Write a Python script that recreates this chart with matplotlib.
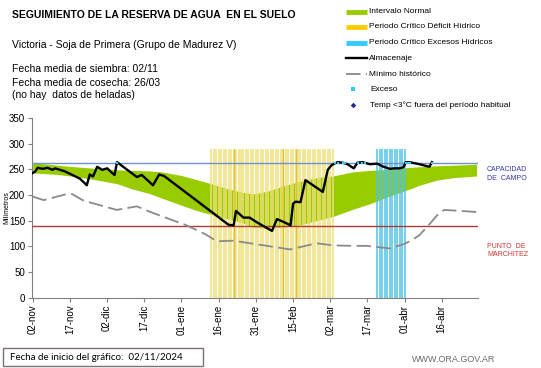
import numpy as np
import matplotlib
matplotlib.use("Agg")
import matplotlib.pyplot as plt
from matplotlib.lines import Line2D
from matplotlib.patches import Rectangle

plt.rcParams['font.family'] = ['Liberation Sans', 'DejaVu Sans']

# dias desde el 02/11/2024
tick_dias = [0, 15, 30, 45, 60, 75, 90, 105, 120, 135, 150, 165]
tick_labels = ['02-nov', '17-nov', '02-dic', '17-dic', '01-ene', '16-ene',
               '31-ene', '15-feb', '02-mar', '17-mar', '01-abr', '16-abr']

capacidad_campo = 263
punto_marchitez = 139

# intervalo normal (banda verde)
banda_dias = [0, 10, 17, 25, 34, 40, 47, 52, 60, 66, 72, 78, 84, 89, 95, 100,
              107, 113, 116, 121, 129, 136, 143, 150, 156, 163, 170, 179]
banda_sup = [263, 258, 255, 252, 249, 248, 247, 245, 238, 230, 222, 213, 206, 202,
             208, 216, 226, 232, 235, 237, 245, 248, 250, 253, 255, 257, 258, 260]
banda_inf = [243, 240, 236, 230, 222, 212, 203, 194, 180, 170, 162, 154, 147, 137,
             135, 137, 141, 148, 152, 158, 172, 183, 196, 208, 219, 229, 234, 237]

# almacenaje
alm_dias = [0, 1, 2, 4, 6, 8, 9, 11, 13, 16, 19, 21.8, 23, 24.3, 26, 28, 30, 32, 33,
            34, 42, 44, 48.5, 51, 53, 79, 81, 82, 85, 87.5, 90, 96.5, 98.5, 101, 104,
            105, 106, 108, 110, 117, 119, 120.5, 122, 123, 125, 127, 128.5, 129.5, 131,
            133, 136, 139, 141, 144, 146, 148, 149.5, 150.5, 152, 156, 160, 161]
alm_vals = [243, 246, 253, 251, 253, 249, 252, 249, 246, 239, 232, 219, 240, 236, 255,
            249, 252, 243, 239, 264, 235, 239, 219, 240, 237, 142, 141, 169, 156, 156,
            148, 130, 153, 148, 141, 183, 187, 186, 229, 206, 249, 258, 262, 264, 263,
            260, 255, 252, 263, 264, 260, 261, 256, 251, 252, 252, 254, 264, 264, 260,
            255, 264]

# exceso
exceso_dias = [34, 122, 123, 125, 126, 131, 133, 134, 150.5, 151.5, 152, 161]

# minimo historico
min_dias = [0, 4.4, 13.8, 15.8, 20.5, 33.9, 42, 47.4, 62, 69.5, 74.2, 81, 90.4,
            103.8, 114.5, 121, 128, 134.7, 144, 149.5, 153, 156, 160, 163, 166, 179]
min_vals = [197, 190, 202, 202, 189, 171, 178, 167, 141, 124, 110, 111, 104, 94,
            106, 102, 101, 101, 96, 104, 112, 122, 143, 160, 171, 167]

# periodos criticos
deficit_inicio, deficit_fin = 72, 121
deficit_oscuros = [81, 101, 106]
excesos_inicio, excesos_fin = 139, 150
altura_periodo = 290

fig = plt.figure(figsize=(5.41, 3.68), dpi=100)
W, H = 541, 368
ax = fig.add_axes([32 / W, 1 - 297.7 / H, (478 - 32) / W, (297.7 - 118) / H])

ax.fill_between(banda_dias, banda_inf, banda_sup, color='#99cc00', lw=0, zorder=1)

deficit_dias = np.arange(deficit_inicio, deficit_fin + 1)
ax.vlines(deficit_dias, 0, altura_periodo, color='#efe07a', lw=1.1, zorder=2)
ax.vlines(deficit_oscuros, 0, altura_periodo, color='#e2c22a', lw=1.0, zorder=2)
excesos_dias = np.arange(excesos_inicio, excesos_fin + 1)
ax.vlines(excesos_dias, 0, altura_periodo, color='#4fc3e6', lw=1.1, zorder=2)

ax.axhline(capacidad_campo, color='#7090d0', lw=1.0, zorder=3)
ax.axhline(punto_marchitez, color='#b03a3a', lw=1.0, zorder=3)

ax.plot(min_dias, min_vals, color='#8a8a8a', lw=1.3, ls=(0, (8, 3)), zorder=4)
ax.plot(alm_dias, alm_vals, color='black', lw=1.7, zorder=5)
ax.plot(exceso_dias, [capacidad_campo] * len(exceso_dias), 's', color='#33ccee',
        ms=1.9, mew=0, zorder=6)

ax.set_xlim(-0.3, 179.6)
ax.set_ylim(0, 350)
ax.set_xticks(tick_dias)
ax.set_xticklabels(tick_labels, rotation=90, fontsize=7)
ax.set_yticks(range(0, 351, 50))
ax.tick_params(axis='both', colors='#808080', length=3, width=0.8, labelcolor='black',
               labelsize=7, pad=2)
for s in ['top', 'right']:
    ax.spines[s].set_visible(False)
for s in ['left', 'bottom']:
    ax.spines[s].set_color('#808080')
    ax.spines[s].set_linewidth(0.8)

fig.text(7 / W, 1 - 208 / H, 'Milímetros', rotation=90, fontsize=5,
         ha='center', va='center')

# textos de encabezado
fig.text(12 / W, 1 - 15 / H, 'SEGUIMIENTO DE LA RESERVA DE AGUA  EN EL SUELO',
         fontsize=7.5, fontweight='bold', va='center')
fig.text(12 / W, 1 - 44.5 / H, 'Victoria - Soja de Primera (Grupo de Madurez V)',
         fontsize=7.5, va='center')
fig.text(12 / W, 1 - 69.5 / H, 'Fecha media de siembra: 02/11', fontsize=7.5, va='center')
fig.text(12 / W, 1 - 82.5 / H, 'Fecha media de cosecha: 26/03', fontsize=7.5, va='center')
fig.text(12 / W, 1 - 95.5 / H, '(no hay  datos de heladas)', fontsize=7.5, va='center')

# leyenda manual
leg_y = [11.7, 27, 42.5, 58.3, 74, 89.3, 105]
leg_txt = ['Intervalo Normal', 'Periodo Crítico Déficit Hídrico',
           'Periodo Crítico Excesos Hídricos', 'Almacenaje', 'Mínimo histórico',
           'Exceso', 'Temp <3°C fuera del período habitual']
x0, x1 = 346 / W, 367 / W
for y, col in zip(leg_y[:3], ['#99cc00', '#ffcc00', '#33ccff']):
    fig.add_artist(Line2D([x0, x1], [1 - y / H] * 2, color=col, lw=3.5,
                          solid_capstyle='butt'))
fig.add_artist(Line2D([x0, x1], [1 - leg_y[3] / H] * 2, color='black', lw=1.7))
fig.add_artist(Line2D([x0, x1], [1 - leg_y[4] / H] * 2, color='#8a8a8a', lw=1.3,
                      ls=(0, (8, 3))))
fig.add_artist(Line2D([352.7 / W], [1 - leg_y[5] / H], marker='s', color='#33ccee',
                      ms=2.2, mew=0, ls='none'))
fig.add_artist(Line2D([352.7 / W], [1 - leg_y[6] / H], marker='D', color='#1f2a99',
                      ms=2.8, mew=0, ls='none'))
for i, (y, t) in enumerate(zip(leg_y, leg_txt)):
    xt = 369 if i < 5 else 370
    fig.text(xt / W, 1 - y / H, t, fontsize=6, va='center')

# etiquetas laterales
fig.text(487 / W, 1 - 170 / H, 'CAPACIDAD', fontsize=5, color='#3333aa', va='center')
fig.text(487 / W, 1 - 179 / H, 'DE  CAMPO', fontsize=5, color='#3333aa', va='center')
fig.text(487 / W, 1 - 246.7 / H, 'PUNTO  DE', fontsize=5, color='#cc3333', va='center')
fig.text(487 / W, 1 - 255 / H, 'MARCHITEZ', fontsize=5, color='#cc3333', va='center')

# pie
fig.add_artist(Rectangle((3 / W, 1 - 366 / H), 200 / W, 18 / H, transform=fig.transFigure,
                         fill=False, edgecolor='#7f6f6f', lw=1))
fig.text(10 / W, 1 - 357.5 / H, 'Fecha de inicio del gráfico:  02/11/2024', fontsize=7,
         family=['Lato', 'DejaVu Sans'], va='center')
fig.text(454 / W, 1 - 359 / H, 'WWW.ORA.GOV.AR', fontsize=6.5, color='#6b6b6b',
         ha='center', va='center')

fig.savefig('out.png', dpi=100)
